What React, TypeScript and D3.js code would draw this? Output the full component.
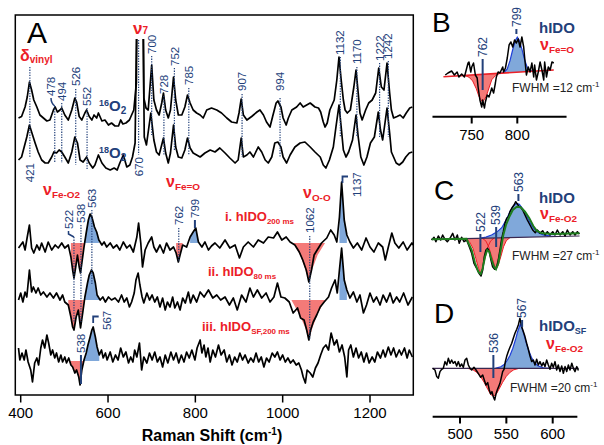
import React from 'react'
import * as d3 from 'd3'

type P = [number, number]

const NAVY = '#22407a'
const RED = '#ec2027'
const FILL_RED = '#f47a78'
const FILL_BLUE = '#80a8da'
const BAND_BLUE = '#1f3fd8'
const GREEN = '#1e7d1e'
const FONT = '"Liberation Sans", Arial, Helvetica, sans-serif'

// ---------- Panel A: spectra, [Raman shift cm-1, intensity] ----------
const o16: P[] = [[395,0],[402,1.5],[410,11],[415,21],[420,36],[425,28],[430,18],[437,11],[444,3],[452,0],[460,-3],[467,-2],[475,8],[479,11],[484,6],[490,8],[494,10],[501,3],[509,-2],[517,8],[524,20],[528,16],[534,1.5],[540,-2],[547,5],[551,8],[557,1.5],[563,-2],[568,3],[574,0],[578,5],[586,-3],[593,-2],[601,-7],[608,-5],[616,-8],[624,-8],[629,-2],[634,-6],[641,-5],[649,-2],[654,3],[659,8],[665,35],[667,150],[672,320],[678,320],[680,150],[682,20],[687,10],[692,8],[700,53],[705,18],[711,8],[717,3],[723,15],[727,25],[732,8],[738,0],[743,8],[750,41],[755,18],[761,3],[769,3],[776,11],[782,23],[788,15],[795,8],[803,5],[811,3],[818,0],[826,8],[837,10],[849,8],[860,5],[872,0],[883,-4],[895,-5],[900,5],[905,19],[910,3],[918,-2],[929,1.5],[941,6],[948,8],[956,3],[963,-4],[971,-9],[977,1.5],[985,15],[989,17],[996,11],[1001,0],[1008,-7],[1013,0],[1021,8],[1032,11],[1040,15],[1047,11],[1055,13],[1063,15],[1074,11],[1082,10],[1087,6],[1093,-4],[1097,-9],[1102,-5],[1108,8],[1118,18],[1124,38],[1129,61],[1134,38],[1139,18],[1143,8],[1148,5],[1155,8],[1163,31],[1168,48],[1173,25],[1177,5],[1182,-2],[1190,8],[1197,15],[1205,18],[1213,25],[1220,50],[1226,31],[1232,28],[1239,55],[1245,25],[1249,8],[1254,0],[1262,1.5],[1269,3],[1276,0],[1283,5],[1291,10],[1297,11]]

const o18: P[] = [[395,0],[402,3],[408,13],[414,23],[420,35],[425,28],[433,17],[440,8],[448,0],[456,-3],[463,-3],[471,3],[476,8],[482,7],[488,10],[494,8],[501,3],[509,-3],[517,8],[524,23],[530,17],[536,0],[543,-2],[551,3],[557,-3],[565,-8],[570,-5],[578,5],[586,-3],[595,-8],[605,-10],[614,-8],[621,-10],[627,-3],[635,5],[643,-7],[650,-5],[656,3],[662,17],[666,150],[672,320],[678,320],[680,150],[683,23],[688,15],[698,47],[705,20],[711,8],[717,5],[727,22],[732,7],[738,-3],[743,7],[750,35],[755,13],[761,3],[769,2],[776,10],[782,22],[788,12],[795,7],[803,5],[811,3],[822,7],[834,10],[845,8],[856,12],[868,7],[879,2],[891,-3],[898,0],[905,22],[910,3],[918,5],[925,8],[933,3],[944,13],[952,8],[960,0],[967,-3],[975,3],[982,17],[989,18],[996,13],[1001,3],[1009,-3],[1017,5],[1028,13],[1040,17],[1051,18],[1063,13],[1074,8],[1086,3],[1093,-5],[1099,-8],[1107,0],[1116,13],[1122,33],[1129,55],[1134,33],[1139,10],[1145,3],[1151,8],[1160,20],[1168,45],[1173,23],[1179,3],[1186,-5],[1193,3],[1201,17],[1210,23],[1219,48],[1224,30],[1229,20],[1239,52],[1245,27],[1249,8],[1254,3],[1260,-3],[1267,-5],[1275,-2],[1282,3],[1290,7],[1297,8]]

const d200: P[] = [[395,-5],[400,-2],[405,1],[410,-7],[415,6],[420,18],[425,-5],[430,-10],[437,-2],[443,-7],[448,0],[456,-9],[463,1],[471,-7],[479,-2],[486,-5],[494,0],[501,-5],[509,-2],[515,-14],[519,-27],[522,-35],[526,-24],[530,-12],[534,-24],[537,-30],[541,-17],[545,-4],[550,10],[555,23],[559,29],[563,26],[569,16],[574,11],[579,3],[586,-2],[591,1],[597,-4],[605,0],[612,-5],[620,-2],[627,-7],[635,1],[643,-5],[650,-2],[658,-9],[666,6],[670,20],[675,0],[679,-24],[685,-7],[692,0],[700,6],[705,-4],[711,-9],[719,-2],[727,-10],[734,0],[742,-7],[750,-4],[756,-10],[761,-19],[765,-12],[771,-2],[780,-4],[788,6],[795,11],[801,15],[807,1],[815,-4],[822,1],[830,-7],[837,-3],[845,0],[856,-5],[868,3],[879,-5],[891,-2],[901,-15],[910,-4],[921,1],[933,-4],[944,3],[956,0],[967,6],[979,5],[988,11],[998,3],[1008,6],[1017,1],[1028,-2],[1038,-9],[1046,-17],[1054,-27],[1060,-39],[1066,-27],[1072,-12],[1079,-7],[1089,0],[1101,5],[1110,13],[1118,8],[1124,1],[1130,26],[1135,61],[1141,23],[1147,8],[1154,1],[1162,-5],[1171,0],[1181,-7],[1191,5],[1200,-4],[1209,-9],[1219,0],[1229,-4],[1235,-17],[1242,-4],[1250,10],[1257,0],[1266,-5],[1276,1],[1285,-7],[1296,0],[1299,-2]]

const d80: P[] = [[395,0],[400,7],[405,-2],[410,8],[414,3],[420,30],[425,8],[429,13],[435,7],[440,12],[446,5],[452,8],[460,3],[467,7],[475,2],[482,7],[490,0],[496,5],[501,-2],[509,-5],[515,-17],[519,-27],[522,-30],[527,-17],[532,-10],[537,-28],[542,-13],[547,3],[553,17],[557,25],[562,30],[566,27],[571,17],[575,5],[582,0],[588,3],[594,-2],[601,3],[608,0],[616,2],[624,-2],[631,5],[637,-2],[643,2],[649,-7],[654,-2],[660,7],[664,20],[669,27],[673,15],[678,3],[682,-3],[689,7],[695,0],[701,5],[707,-2],[713,3],[719,-7],[725,2],[731,-10],[736,-2],[742,-7],[748,3],[753,-8],[759,-2],[765,-10],[771,2],[777,-3],[784,8],[789,-3],[795,5],[803,-2],[811,8],[820,3],[830,10],[840,2],[849,5],[858,0],[868,3],[878,-5],[887,2],[896,-10],[906,5],[916,-2],[925,12],[933,3],[942,10],[952,2],[962,7],[971,-2],[980,3],[988,17],[996,3],[1005,2],[1015,-2],[1024,-13],[1034,-8],[1041,-18],[1049,-20],[1055,-30],[1060,-40],[1064,-30],[1070,-22],[1078,-15],[1086,-7],[1095,-2],[1105,3],[1112,12],[1120,20],[1125,7],[1130,30],[1135,52],[1141,20],[1147,10],[1154,2],[1162,8],[1170,-2],[1177,5],[1185,-13],[1192,-5],[1200,7],[1208,-2],[1215,3],[1223,-5],[1230,5],[1238,-2],[1246,7],[1253,-3],[1261,3],[1268,-2],[1277,7],[1287,-5],[1297,3]]

const dSF: P[] = [[395,13],[398,1],[403,8],[408,1],[412,11],[417,-1],[423,-9],[427,-21],[432,-2],[437,3],[441,-4],[446,13],[450,21],[455,13],[460,26],[464,18],[469,6],[473,11],[478,3],[482,8],[487,-1],[492,6],[496,-1],[501,4],[505,-2],[510,3],[515,-4],[519,-6],[524,-12],[528,-9],[533,-16],[536,-24],[540,-9],[545,1],[550,8],[554,16],[559,24],[563,31],[566,34],[571,24],[575,14],[580,6],[585,11],[589,3],[594,8],[598,1],[605,9],[611,-1],[617,6],[623,1],[629,13],[635,4],[641,9],[647,-2],[652,4],[657,-1],[661,11],[666,4],[672,18],[677,-9],[682,4],[689,-2],[695,8],[701,1],[707,9],[713,-1],[719,4],[725,-6],[731,6],[737,-2],[744,9],[750,1],[756,8],[762,-2],[768,6],[774,-1],[780,9],[786,3],[792,11],[799,1],[804,13],[811,21],[815,8],[820,16],[824,4],[829,13],[834,-1],[840,11],[846,4],[853,16],[859,6],[866,11],[872,-1],[878,6],[884,-4],[890,4],[896,-1],[902,8],[908,1],[914,6],[921,-2],[927,3],[933,-1],[939,8],[945,-1],[951,4],[957,-6],[963,3],[969,-1],[976,8],[982,4],[988,9],[994,1],[1000,6],[1006,-1],[1012,3],[1018,-2],[1024,1],[1031,-4],[1037,-2],[1043,-9],[1047,-16],[1052,-22],[1056,-9],[1063,-12],[1069,-16],[1075,-7],[1081,-2],[1087,6],[1093,13],[1099,16],[1105,11],[1111,28],[1118,16],[1124,21],[1130,9],[1136,16],[1142,4],[1147,-16],[1151,11],[1156,16],[1162,4],[1168,13],[1174,3],[1180,9],[1186,-1],[1192,8],[1198,-2],[1205,4],[1211,-1],[1217,9],[1224,3],[1230,11],[1235,4],[1242,14],[1248,6],[1254,13],[1260,4],[1267,11],[1272,6],[1279,13],[1285,3],[1290,11],[1297,4]]

const tracesA = [o16, o18, d200, d80, dSF]
const offsetsA = [277, 235, 152, 95, 34]

// shaded bands taken from the difference traces: trace index, cm range, sign
const fillsA = [
  { t: 2, from: 512, to: 546, sign: -1 },
  { t: 2, from: 545, to: 582, sign: 1 },
  { t: 2, from: 752, to: 772, sign: -1 },
  { t: 2, from: 785, to: 809, sign: 1 },
  { t: 2, from: 1127, to: 1147, sign: 1 },
  { t: 3, from: 505, to: 547, sign: -1 },
  { t: 3, from: 546, to: 582, sign: 1 },
  { t: 3, from: 1126, to: 1148, sign: 1 },
  { t: 4, from: 508, to: 547, sign: -1 },
  { t: 4, from: 545, to: 584, sign: 1 },
]
// nu(O-O) difference bands (drawn shapes)
const ooBand200: P[] = [[1024,0],[1040,-12],[1050,-24],[1060,-38],[1068,-26],[1080,-12],[1097,0]]
const ooBand80: P[] = [[1020,0],[1040,-16],[1052,-28],[1060,-40],[1068,-28],[1080,-14],[1097,0]]

const xTicksA = [400, 600, 800, 1000, 1200]

// peak labels (value, text bottom y, dotted line extent)
const peaksTop = [
  { v: 478, ty: 96, y1: 106, y2: 163, tx: 51 },
  { v: 494, ty: 101, y1: 103, y2: 163 },
  { v: 526, ty: 86, y1: 89, y2: 165 },
  { v: 552, ty: 106, y1: 108, y2: 170 },
  { v: 700, ty: 54, y1: 56, y2: 135 },
  { v: 728, ty: 94, y1: 96, y2: 155 },
  { v: 752, ty: 66, y1: 68, y2: 150 },
  { v: 785, ty: 85, y1: 88, y2: 155 },
  { v: 907, ty: 91, y1: 94, y2: 157 },
  { v: 994, ty: 91, y1: 98, y2: 157 },
  { v: 1132, ty: 55, y1: 57, y2: 137 },
  { v: 1170, ty: 64, y1: 67, y2: 137 },
  { v: 1222, ty: 61, y1: 63, y2: 137 },
  { v: 1242, ty: 59, y1: 61, y2: 137 },
]
const peaksBelow = [
  { v: 421, ty: 163, y1: 67, y2: 158 },
  { v: 670, ty: 157, y1: 40, y2: 155 },
]
const peaksDiff = [
  { v: 522, ty: 229, y1: 237, y2: 322, tx: 68.5 },
  { v: 538, ty: 223, y1: 225, y2: 322 },
  { v: 563, ty: 208, y1: 210, y2: 285 },
  { v: 762, ty: 225, y1: 228, y2: 262 },
  { v: 1062, ty: 233, y1: 236, y2: 340 },
]

// ---------- Panel B ----------
const specB: P[] = [[721,-1],[724,1],[728,3],[731,-1],[734,2],[736,-3],[739,0],[742,-3],[744,4],[746,11],[747,12],[749,2],[750,7],[752,11],[754,-1],[756,-4],[757,-13],[759,-26],[761,-33],[762,-26],[764,-34],[765,-28],[767,-21],[769,-23],[772,-14],[774,-19],[776,-9],[777,-3],[779,2],[781,1],[784,7],[785,2],[787,6],[789,16],[791,29],[793,32],[795,27],[797,34],[799,31],[801,35],[803,27],[805,37],[807,27],[808,17],[810,-1],[812,7],[814,2],[816,11],[818,-3],[819,9],[821,-6],[823,2],[825,12],[827,4],[829,-6],[830,12],[832,-3],[834,7],[836,4],[838,12],[840,11]]
const baseB: P[] = [[719,-2.7],[840,4]]
const redBandB: P[] = [[742,0],[747,-2],[751,-6],[755,-14],[758,-22],[762,-28],[766,-22],[769,-14],[772,-6],[776,-2],[781,0]]
const blueBandB: P[] = [[782,0],[786,1],[789,4],[792,12],[795,23],[798,32],[800,35],[802,32],[805,23],[808,12],[811,4],[814,1],[818,0]]

// ---------- Panel C ----------
const specC: P[] = [[469.5,0],[472,2.7],[474,-1.7],[476.6,4],[479.2,0],[481.3,5],[483.8,0.7],[486.3,-1.7],[489.2,1.7],[492.1,6.7],[494.6,0],[497.1,5],[499.2,-3.3],[501.8,2.7],[504.3,-1.7],[507.2,0],[510,-6.7],[512.6,-13.3],[515.1,-23.3],[518,-28.3],[520.5,-33.3],[522.7,-36],[524.5,-30],[526.2,-16.7],[528,-10],[529.9,-8.3],[531.6,-11.7],[533.4,-20],[535.2,-26.7],[537.4,-29.3],[539.6,-26.7],[541.3,-20],[543.1,-10],[545,1.7],[546.7,8.3],[548.5,16.7],[550.4,21.7],[552.1,23.3],[553.9,28.3],[555.8,31.7],[558.3,35],[560.1,38.3],[561.8,36],[563.7,33.3],[565.5,32.7],[567.6,30],[570.1,25],[572.6,20],[575.5,15],[578.4,10],[581.2,7.3],[583.4,10],[586.3,6.7],[589.2,9.3],[591.7,5],[594.2,8.3],[597.1,5],[600,8.3],[602.5,5],[605,10],[607.9,5],[610.8,8.3],[613.3,4],[615.8,10],[618.7,5],[621.6,8.3],[624.1,5],[626.6,8.3],[628.8,6]]
const baseC: P[] = [[469,0.7],[629,4]]
const redBandC1: P[] = [[506,0],[510,-3],[514,-10],[517,-20],[520,-30],[522,-35],[524,-31],[527,-20],[530,-9],[533,-3],[537,0]]
const redBandC2: P[] = [[524,0],[528,-3],[531,-9],[534,-18],[537,-27],[539,-31],[541,-28],[544,-19],[547,-9],[550,-3],[554,0]]
const blueBandC: P[] = [[522,0],[528,1],[534,3],[540,6],[545,10],[550,18],[554,26],[558,32],[561,34],[564,33],[568,28],[572,21],[576,14],[580,8],[585,4],[590,2],[598,0.5],[605,0]]
const fitC: P[] = [[469.5,0.8],[490,1],[507,1.2],[512.6,-10],[516.2,-23],[519.7,-31.7],[522.3,-34],[524.5,-28.3],[527,-16.7],[529.4,-10],[531.6,-11.7],[534.2,-20],[536.7,-26.7],[538.8,-29.3],[541.3,-23.3],[543.9,-10],[546.7,5],[549.6,15],[553.2,23.3],[556.9,30],[561.2,33.3],[565.5,32.7],[570.1,28.3],[574.8,21.7],[579.1,14],[582.7,9.3],[588.1,6.7],[600.6,6],[628.8,6.7]]

// ---------- Panel D ----------
const specD: P[] = [[470.6,0],[473,-1.7],[474.9,-8.3],[476.6,-10],[478.4,-3.3],[480.3,-1],[482,0],[483.8,6.7],[485.7,3.3],[487.4,10],[489.2,5],[491,8.3],[492.8,5],[494.6,6.7],[496.4,2.3],[498.2,6.7],[500,1.7],[501.8,4.3],[503.6,1],[505.4,8.3],[507.2,10],[509,3.3],[510.8,0],[512.6,-1.7],[515.1,1],[517.3,-1.7],[519.7,-5],[522.3,-9],[524.5,-6.7],[526.2,-11.7],[528,-16.7],[529.9,-14.3],[531.6,-21.7],[533.1,-25.7],[534.5,-23.3],[535.9,-28.3],[537.4,-31.7],[538.8,-25.7],[540.2,-21.7],[541.7,-18.3],[543.1,-15],[544.6,-9],[546,-3.3],[547.5,-1],[548.9,6.7],[550.3,11.7],[552.1,16.7],[553.9,21],[555.8,25],[557.5,30],[559.3,35],[561.2,39],[562.9,43.3],[564.7,50],[566.5,41.7],[568.3,36.7],[570.1,31.7],[571.9,25],[573.7,19],[575.5,12.3],[577.3,6.7],[579.1,8.3],[580.9,3.3],[582.7,9],[584.5,3.3],[586.3,6.7],[588.2,2.3],[589.9,5.7],[591.7,1.7],[593.5,8.3],[595.3,3.3],[597.1,-1],[598.9,5],[600.6,1],[602.5,6.7],[604.3,-1.7],[606,3.3],[607.9,-3.3],[609.7,2.3],[611.5,-5],[613.3,1.7],[615.1,-3.3],[616.9,3.3],[618.7,-1.7],[620.6,5],[622.3,0],[624.1,-3.3],[626,1.7],[627.7,-2.3]]
const baseD: P[] = [[470,0],[628,0]]
const redBandD: P[] = [[508,0],[514,-1.5],[518,-4],[522,-8],[526,-14],[530,-21],[533,-26],[536,-28],[539,-26],[542,-21],[546,-14],[550,-8],[554,-4],[558,-1.5],[564,0]]
const blueBandD: P[] = [[538,0],[544,1.5],[548,4],[551,8],[554,13],[557,20],[560,29],[562,36],[565,44],[568,37],[571,27],[574,18],[577,11],[580,6],[584,2.5],[590,0.5],[596,0]]

const xTicksB = [750, 800]
const xTicksD = [500, 550, 600]

function VLabel({ x, y, anchor = 'start', size = 11.5, children }: any) {
  return (
    <text transform={`translate(${x},${y}) rotate(-90)`} dy="0.36em" textAnchor={anchor}
      fontSize={size} fill={NAVY}>{children}</text>
  )
}

function Nu({ x, y, sub, size = 16 }: any) {
  return (
    <text x={x} y={y} fill={RED} fontWeight="bold" fontSize={size}>
      ν<tspan fontSize={size * 0.62} dy={3}>{sub}</tspan>
    </text>
  )
}

// inset panel: spectrum with fitted bands on a straight baseline
function Inset({ spec, base, reds, blue, fit, xs, ys, redOutline }: any) {
  const bl = d3.scaleLinear().domain([base[0][0], base[1][0]]).range([base[0][1], base[1][1]])
  const band = (pts: P[]) => d3.area<P>().x(d => xs(d[0])).y0(d => ys(bl(d[0]))).y1(d => ys(bl(d[0]) + d[1]))(pts) || ''
  const bandLine = (pts: P[]) => d3.line<P>().x(d => xs(d[0])).y(d => ys(bl(d[0]) + d[1]))(pts) || ''
  const ln = d3.line<P>().x(d => xs(d[0])).y(d => ys(d[1]))
  return (
    <g>
      {reds.map((r: P[], i: number) => <path key={'rf' + i} d={band(r)} fill={FILL_RED} />)}
      <path d={band(blue)} fill={FILL_BLUE} />
      {reds.map((r: P[], i: number) => <path key={'rl' + i} d={bandLine(r)} fill="none" stroke={RED} strokeWidth={1} />)}
      <path d={bandLine(blue)} fill="none" stroke={BAND_BLUE} strokeWidth={1.2} />
      <path d={ln(base) || ''} fill="none" stroke={redOutline ? RED : '#3a2850'} strokeWidth={redOutline ? 1.6 : 1.2} />
      <path d={ln(spec) || ''} fill="none" stroke="#000" strokeWidth={1.5} strokeLinejoin="round" />
      {fit && <path d={ln(fit) || ''} fill="none" stroke={GREEN} strokeWidth={2} />}
    </g>
  )
}

export default function App() {
  const xA = d3.scaleLinear().domain([400, 1200]).range([20.7, 370])
  const yA = d3.scaleLinear().domain([0, 380]).range([395, 15])
  const trace = (data: P[], off: number) => d3.line<P>().x(d => xA(d[0])).y(d => yA(d[1] + off))(data) || ''
  const rangeFill = (data: P[], off: number, from: number, to: number, sign: number) =>
    d3.area<P>().x(d => xA(d[0])).y0(yA(off))
      .y1(d => yA(off + (sign > 0 ? Math.max(d[1], 0) : Math.min(d[1], 0))))(data.filter(d => d[0] >= from && d[0] <= to)) || ''
  const shape = (pts: P[], off: number) =>
    d3.area<P>().x(d => xA(d[0])).y0(yA(off)).y1(d => yA(off + d[1]))(pts) || ''

  const xB = d3.scaleLinear().domain([750, 800]).range([471.7, 517.3])
  const yB = d3.scaleLinear().domain([0, 50]).range([74, 24])
  const xD = d3.scaleLinear().domain([500, 600]).range([460, 552.7])
  const yC = d3.scaleLinear().domain([0, 50]).range([240, 190])
  const yD = d3.scaleLinear().domain([0, 50]).range([368.3, 318.3])

  const dotted = { stroke: NAVY, strokeWidth: 1.2, strokeDasharray: '1.3 1.3' }
  const solid = { stroke: NAVY, strokeWidth: 2 }

  return (
    <svg width={604} height={445} style={{ position: 'absolute', left: 0, top: 0, background: '#fff' }}
      fontFamily={FONT}>
      <defs>
        <clipPath id="clipA"><rect x={15.3} y={39} width={398} height={356} /></clipPath>
      </defs>

      {/* ---------- Panel A ---------- */}
      <g clipPath="url(#clipA)">
        {fillsA.map((f, i) => (
          <path key={'f' + i} d={rangeFill(tracesA[f.t], offsetsA[f.t], f.from, f.to, f.sign)}
            fill={f.sign > 0 ? FILL_BLUE : FILL_RED} />
        ))}
        <path d={shape(ooBand200, offsetsA[2])} fill={FILL_RED} />
        <path d={shape(ooBand80, offsetsA[3])} fill={FILL_RED} />
        {tracesA.map((t, i) => (
          <path key={'t' + i} d={trace(t, offsetsA[i])} fill="none" stroke="#000" strokeWidth={1.7} strokeLinejoin="round" />
        ))}
      </g>
      <rect x={15.3} y={15} width={398} height={380} fill="none" stroke="#000" strokeWidth={1.5} />
      {xTicksA.map(t => (
        <g key={t}>
          <line x1={xA(t)} x2={xA(t)} y1={395} y2={402.5} stroke="#000" strokeWidth={1.5} />
          <text x={xA(t)} y={418} textAnchor="middle" fontSize={15}>{t}</text>
        </g>
      ))}
      <text x={212} y={441} textAnchor="middle" fontSize={16} fontWeight="bold">
        Raman Shift (cm<tspan fontSize={10} dy={-6}>-1</tspan><tspan dy={6}>)</tspan>
      </text>
      <text x={27} y={43} fontSize={30}>A</text>

      {/* peak annotations */}
      {peaksTop.map(p => (
        <g key={'pt' + p.v}>
          <line x1={xA(p.v)} x2={xA(p.v)} y1={p.y1} y2={p.y2} {...dotted} />
          <VLabel x={p.tx ?? xA(p.v)} y={p.ty}>{p.v}</VLabel>
        </g>
      ))}
      <path d={`M51,98 Q51,103 ${xA(478)},106`} fill="none" stroke={NAVY} strokeWidth={1.5} />
      {peaksBelow.map(p => (
        <g key={'pb' + p.v}>
          <line x1={xA(p.v)} x2={xA(p.v)} y1={p.y1} y2={p.y2} {...dotted} />
          <VLabel x={xA(p.v)} y={p.ty} anchor="end">{p.v}</VLabel>
        </g>
      ))}
      {peaksDiff.map(p => (
        <g key={'pd' + p.v}>
          <line x1={xA(p.v)} x2={xA(p.v)} y1={p.y1} y2={p.y2} {...dotted} />
          <VLabel x={p.tx ?? xA(p.v)} y={p.ty}>{p.v}</VLabel>
        </g>
      ))}
      <path d={`M68.5,231 L68.5,234 L${xA(522)},237`} fill="none" stroke={NAVY} strokeWidth={1.5} />
      <VLabel x={xA(799)} y={218}>799</VLabel>
      <line x1={xA(799)} x2={xA(799)} y1={220} y2={228} {...solid} />
      <VLabel x={356.7} y={197}>1137</VLabel>
      <path d={`M${xA(1137)},183 V176.5 H${xA(1137) + 5.5}`} fill="none" stroke={NAVY} strokeWidth={1.8} />
      <VLabel x={xA(538)} y={353}>538</VLabel>
      <line x1={xA(538)} x2={xA(538)} y1={355} y2={384} {...solid} />
      <VLabel x={107.3} y={330}>567</VLabel>
      <path d={`M${xA(566)},323 V316.5 H${xA(566) + 5.5}`} fill="none" stroke={NAVY} strokeWidth={1.8} />

      {/* red band labels */}
      <text x={20} y={61} fill={RED} fontWeight="bold" fontSize={16}>δ<tspan fontSize={10} dy={2}>vinyl</tspan></text>
      <text x={133} y={34} fill={RED} fontWeight="bold" fontSize={17}>ν<tspan fontSize={10} dy={0}>7</tspan></text>
      <Nu x={43} y={195} sub="Fe-O2" />
      <Nu x={166} y={187} sub="Fe=O" />
      <Nu x={303} y={198} sub="O-O" />
      <text x={99} y={111} fill={NAVY} fontWeight="bold" fontSize={15}>
        <tspan fontSize={9} dy={-5}>16</tspan><tspan dy={5}>O</tspan><tspan fontSize={10} dy={3}>2</tspan>
      </text>
      <text x={99} y={158} fill={NAVY} fontWeight="bold" fontSize={15}>
        <tspan fontSize={9} dy={-5}>18</tspan><tspan dy={5}>O</tspan><tspan fontSize={10} dy={3}>2</tspan>
      </text>
      <text x={225} y={221} fill={RED} fontWeight="bold" fontSize={13}>i. hIDO<tspan fontSize={8} dy={3}>200 ms</tspan></text>
      <text x={208} y={276} fill={RED} fontWeight="bold" fontSize={13}>ii. hIDO<tspan fontSize={8} dy={3}>80 ms</tspan></text>
      <text x={202} y={331} fill={RED} fontWeight="bold" fontSize={13}>iii. hIDO<tspan fontSize={8} dy={3}>SF,200 ms</tspan></text>

      {/* ---------- Panel B ---------- */}
      <text x={432} y={32} fontSize={28}>B</text>
      <Inset spec={specB} base={baseB} reds={[redBandB]} blue={blueBandB} xs={xB} ys={yB} redOutline />
      <line x1={xB(762)} x2={xB(762)} y1={59} y2={90} {...solid} />
      <VLabel x={xB(762)} y={57} size={12}>762</VLabel>
      <line x1={xB(799)} x2={xB(799)} y1={29} y2={34} {...solid} />
      <VLabel x={xB(799)} y={27} size={12}>799</VLabel>
      <text x={539} y={33} fill={NAVY} fontWeight="bold" fontSize={15}>hIDO</text>
      <Nu x={540} y={50} sub="Fe=O" />
      <text x={512} y={92} fontSize={12} fill="#222">FWHM =12 cm<tspan fontSize={8} dy={-5}>-1</tspan></text>
      <line x1={xB(707)} x2={xB(854)} y1={116.7} y2={116.7} stroke="#000" strokeWidth={2} />
      {xTicksB.map(t => (
        <g key={t}>
          <line x1={xB(t)} x2={xB(t)} y1={116.7} y2={123.5} stroke="#000" strokeWidth={2} />
          <text x={xB(t)} y={140} textAnchor="middle" fontSize={15}>{t}</text>
        </g>
      ))}

      {/* ---------- Panel C ---------- */}
      <text x={434} y={200} fontSize={28}>C</text>
      <Inset spec={specC} base={baseC} reds={[redBandC1, redBandC2]} blue={blueBandC} fit={fitC} xs={xD} ys={yC} />
      <line x1={xD(522)} x2={xD(522)} y1={234} y2={252} {...solid} />
      <VLabel x={xD(522)} y={232} size={12}>522</VLabel>
      <line x1={xD(539)} x2={xD(539)} y1={227} y2={247} {...solid} />
      <VLabel x={xD(539)} y={225} size={12}>539</VLabel>
      <line x1={xD(563)} x2={xD(563)} y1={194} y2={201} {...solid} />
      <VLabel x={xD(563)} y={192} size={12}>563</VLabel>
      <text x={539} y={203} fill={NAVY} fontWeight="bold" fontSize={15}>hIDO</text>
      <Nu x={540} y={219} sub="Fe-O2" />
      <text x={512} y={260} fontSize={12} fill="#222">FWHM =27 cm<tspan fontSize={8} dy={-5}>-1</tspan></text>

      {/* ---------- Panel D ---------- */}
      <text x={434} y={323} fontSize={28}>D</text>
      <Inset spec={specD} base={baseD} reds={[redBandD]} blue={blueBandD} xs={xD} ys={yD} />
      <line x1={xD(536)} x2={xD(536)} y1={355} y2={378} {...solid} />
      <VLabel x={xD(536)} y={353} size={12}>536</VLabel>
      <line x1={xD(567)} x2={xD(567)} y1={320} y2={327} {...solid} />
      <VLabel x={xD(567)} y={318} size={12}>567</VLabel>
      <text x={539} y={331} fill={NAVY} fontWeight="bold" fontSize={15}>hIDO<tspan fontSize={9} dy={3}>SF</tspan></text>
      <Nu x={546} y={349} sub="Fe-O2" />
      <text x={510} y={392} fontSize={12} fill="#222">FWHM =20 cm<tspan fontSize={8} dy={-5}>-1</tspan></text>
      <line x1={xD(470.5)} x2={xD(626.6)} y1={416.7} y2={416.7} stroke="#000" strokeWidth={2} />
      {xTicksD.map(t => (
        <g key={t}>
          <line x1={xD(t)} x2={xD(t)} y1={416.7} y2={423.5} stroke="#000" strokeWidth={2} />
          <text x={xD(t)} y={439} textAnchor="middle" fontSize={15}>{t}</text>
        </g>
      ))}
    </svg>
  )
}
